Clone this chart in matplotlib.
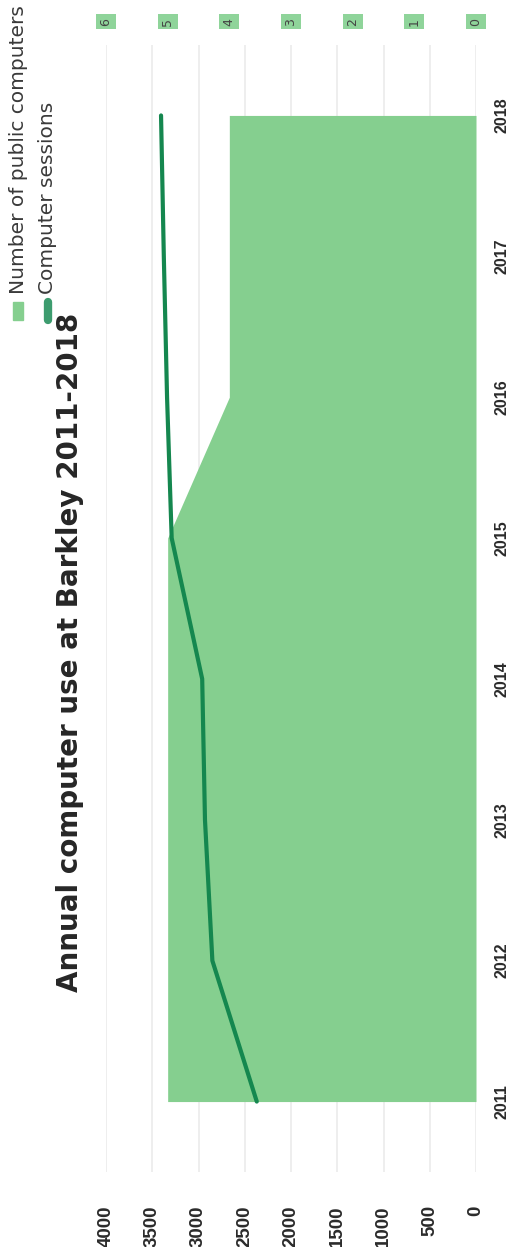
import matplotlib
matplotlib.use("Agg")
import matplotlib.pyplot as plt
from matplotlib.patches import Rectangle
from matplotlib.lines import Line2D

years = [2011, 2012, 2013, 2014, 2015, 2016, 2017, 2018]
computers = [5, 5, 5, 5, 5, 4, 4, 4]
sessions = [2370, 2850, 2930, 2960, 3290, 3340, 3375, 3405]
session_ticks = [0, 500, 1000, 1500, 2000, 2500, 3000, 3500, 4000]
computer_ticks = [0, 1, 2, 3, 4, 5, 6]

AREA = "#85cf8f"
LINE = "#15874f"
INK = "#2b2b2b"
GRID = "#ebebeb"

W, H = 513, 1247
fig = plt.figure(figsize=(W / 100, H / 100), dpi=100)
fig.patch.set_facecolor("white")

# chart is laid out sideways: values run right-to-left, years bottom-to-top
pos = [106 / W, 75 / H, (476 - 106) / W, (1172 - 45) / H]
ax = fig.add_axes(pos)
ax.set_xlim(4000, 0)
ax.set_ylim(2010.5, 2018.5)
ax.set_xticks(session_ticks)
ax.set_yticks(years)
ax.xaxis.grid(True, color=GRID, linewidth=1.2)
ax.tick_params(axis="both", length=0)
ax.tick_params(axis="x", pad=24)
ax.tick_params(axis="y", pad=13)
ax.yaxis.tick_right()
for lab in ax.get_xticklabels():
    lab.set_rotation(90)
    lab.set_fontfamily("Liberation Sans")
    lab.set_fontweight("bold")
    lab.set_fontsize(13.5)
    lab.set_color(INK)
for lab in ax.get_yticklabels():
    lab.set_rotation(90)
    lab.set_va("center")
    lab.set_fontfamily("Liberation Sans")
    lab.set_fontweight("bold")
    lab.set_fontsize(11.5)
    lab.set_color(INK)
for s in ax.spines.values():
    s.set_visible(False)

# number of computers on the secondary scale (top)
ax2 = ax.twiny()
ax2.set_xlim(6, 0)
ax2.fill_betweenx(years, 0, computers, color=AREA, linewidth=0)
ax2.set_xticks(computer_ticks)
ax2.tick_params(axis="x", length=0, pad=14)
for lab in ax2.get_xticklabels():
    lab.set_rotation(90)
    lab.set_fontsize(9)
    lab.set_color("#444444")
    lab.set_bbox(dict(facecolor="#8fd49a", edgecolor="none", pad=2.5))
for s in ax2.spines.values():
    s.set_visible(False)

# sessions line on top of everything
ax3 = ax.twiny()
ax3.set_xlim(4000, 0)
ax3.plot(sessions, years, color=LINE, linewidth=3, solid_capstyle="round")
ax3.set_xticks([])
ax3.patch.set_visible(False)
for s in ax3.spines.values():
    s.set_visible(False)

fig.text(70 / W, 1 - 652 / H, "Annual computer use at Barkley 2011-2018",
         rotation=90, ha="center", va="center", fontsize=20,
         fontweight="bold", color="#262626")

# legend, drawn by hand so it can run sideways
fig.patches.append(Rectangle((13 / W, 1 - 320 / H), 10 / W, 18 / H,
                             transform=fig.transFigure, color=AREA))
fig.lines.append(Line2D([48 / W, 48 / W], [1 - 320 / H, 1 - 302 / H],
                        transform=fig.transFigure, color="#3d9c6f",
                        linewidth=6, solid_capstyle="round"))
fig.text(19 / W, 1 - 294 / H, "Number of public computers", rotation=90,
         ha="center", va="bottom", fontsize=14.5, color="#3a3a3a")
fig.text(48 / W, 1 - 294 / H, "Computer sessions", rotation=90,
         ha="center", va="bottom", fontsize=14.5, color="#3a3a3a")

fig.savefig("out.png", dpi=100, facecolor="white")
